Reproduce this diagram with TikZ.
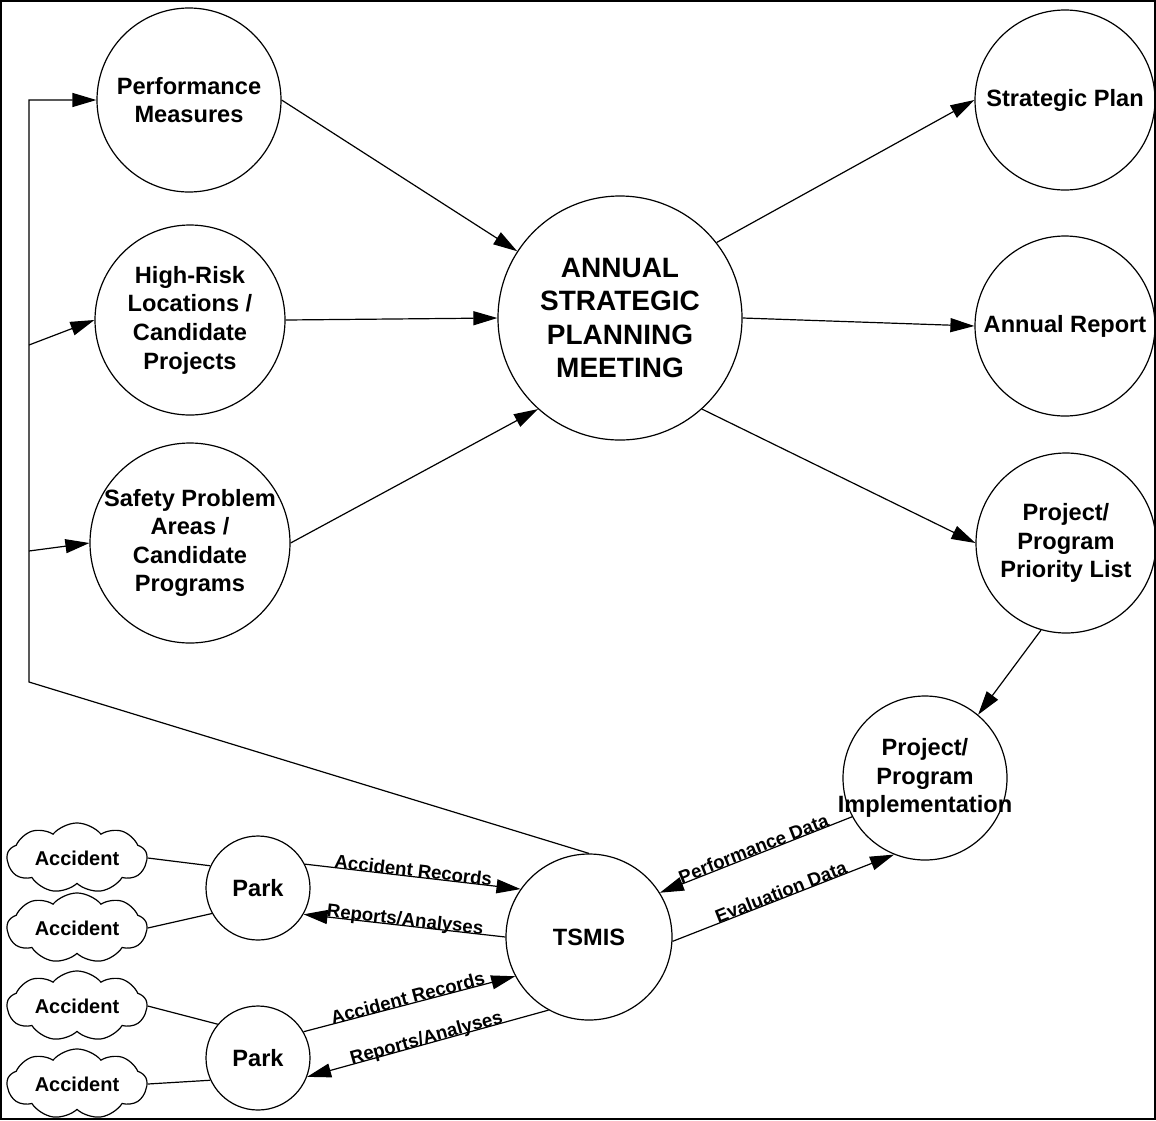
\documentclass[tikz,border=0pt]{standalone}
\usepackage{fontspec}
\setmainfont{Liberation Sans}
\usetikzlibrary{positioning,arrows.meta,shapes.symbols}

\begin{document}
\begin{tikzpicture}[x=0.5pt,y=-0.5pt,line width=0.6pt,
  >={Triangle[length=12pt,width=7pt]},
  proc/.style={circle,draw,inner sep=-6pt,align=center,
    font=\bfseries\fontsize{11.8}{14.3}\selectfont},
  acc/.style={cloud,draw,cloud puffs=9,cloud puff arc=100,aspect=2.2,
    minimum width=70pt,minimum height=33pt,inner sep=0pt,
    font=\bfseries\fontsize{10}{12}\selectfont},
  lbl/.style={sloped,anchor=base,inner sep=0pt,
    font=\bfseries\fontsize{9.3}{11}\selectfont}]
  \useasboundingbox (0,0) rectangle (1156,1120);
  \draw [line width=1.4pt] (1,1) rectangle (1155,1119);

  \node [proc,minimum size=92pt] (perf) at (189,100) {Performance\\Measures};
  \node [proc,minimum size=95pt] (risk) at (190,320) {High-Risk\\Locations /\\Candidate\\Projects};
  \node [proc,minimum size=100pt] (safety) at (190,543) {Safety Problem\\Areas /\\Candidate\\Programs};
  \node [proc,minimum size=122pt,font=\bfseries\fontsize{14}{16.8}\selectfont] (meeting) at (620,318) {ANNUAL\\STRATEGIC\\PLANNING\\MEETING};
  \node [proc,minimum size=90pt] (plan) at (1065,100) {Strategic Plan};
  \node [proc,minimum size=90pt] (report) at (1065,326) {Annual Report};
  \node [proc,minimum size=90pt] (priority) at (1066,543) {Project/\\Program\\Priority List};
  \node [proc,minimum size=82pt] (impl) at (925,778) {Project/\\Program\\Implementation};
  \node [proc,minimum size=83pt] (tsmis) at (589,937) {TSMIS};
  \node [proc,minimum size=52pt] (park1) at (258,888) {Park};
  \node [proc,minimum size=52pt] (park2) at (258,1058) {Park};
  \node [acc] (acc1) at (77,858) {Accident};
  \node [acc] (acc2) at (77,928) {Accident};
  \node [acc] (acc3) at (77,1006) {Accident};
  \node [acc] (acc4) at (77,1084) {Accident};

  \coordinate (b1) at (29,100);
  \coordinate (b2) at (29,345);
  \coordinate (b3) at (29,551);
  \coordinate (b4) at (29,682);

  \draw [->] (tsmis.north) -- (b4) -- (b1) -- (perf.west);
  \draw [->] (b2) to (risk.west);
  \draw [->] (b3) to (safety.west);

  \draw [->] (perf.east) to (meeting.147);
  \draw [->] (risk.east) to (meeting.west);
  \draw [->] (safety.east) to (meeting.228);
  \draw [->] (meeting.38) to (plan.west);
  \draw [->] (meeting.east) to (report.west);
  \draw [->] (meeting.-48) to (priority.west);
  \draw [->] (priority.-106) to (impl.50);

  \draw [->] (impl.208) to node [lbl] {Performance Data} (tsmis.32);
  \draw [->] (tsmis.-3) to node [lbl] {Evaluation Data} (impl.248);
  \draw [->] (park1.27) to node [lbl] {Accident Records} (tsmis.145);
  \draw [->] (tsmis.180) to node [lbl] {Reports/Analyses} (park1.-30);
  \draw [->] (park2.30) to node [lbl] {Accident Records} (tsmis.208);
  \draw [->] (tsmis.241) to node [lbl] {Reports/Analyses} (park2.-21);

  \draw (acc1.east) to (park1.155);
  \draw (acc2.east) to (park1.209);
  \draw (acc3.east) to (park2.140);
  \draw (acc4.east) to (park2.205);
\end{tikzpicture}
\end{document}
